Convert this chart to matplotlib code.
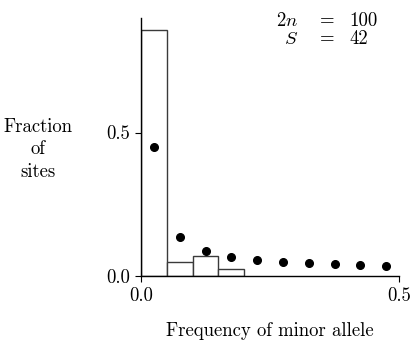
# Site frequency spectrum: observed histogram vs. neutral expectation
#------------------------------------------------------------------------------
import matplotlib
matplotlib.use('Agg')
import matplotlib.pyplot as plt
#------------------------------------------------------------------------------

plt.rcParams['font.family'] = 'cmr10'
plt.rcParams['mathtext.fontset'] = 'cm'
plt.rcParams['axes.formatter.use_mathtext'] = True
plt.rcParams['font.size'] = 13.5

# data
#------------------------------------------------------------------------------
bin_left = [0.00, 0.05, 0.10, 0.15]
bin_width = 0.05
observed = [0.857, 0.048, 0.071, 0.024]

bin_centers = [0.025, 0.075, 0.125, 0.175, 0.225,
               0.275, 0.325, 0.375, 0.425, 0.475]
expected = [0.451, 0.135, 0.086, 0.066, 0.055,
            0.048, 0.044, 0.041, 0.039, 0.035]

x_ticks = [0.0, 0.5]
y_ticks = [0.0, 0.5]
#------------------------------------------------------------------------------

fig = plt.figure(figsize=(4.11, 3.40), dpi=100)
ax = fig.add_axes([0.343, 0.188, 0.628, 0.760])

ax.bar(bin_left, observed, width=bin_width, align='edge',
       facecolor='white', edgecolor='#3a3a3a', linewidth=1.0, zorder=2)
ax.plot(bin_centers, expected, 'o', color='black', markersize=5.5, zorder=3)

ax.set_xlim(0, 0.5)
ax.set_ylim(0, 0.9)
ax.set_xticks(x_ticks)
ax.set_yticks(y_ticks)
ax.set_xticklabels(['0.0', '0.5'])
ax.set_yticklabels(['0.0', '0.5'])
ax.tick_params(direction='out', length=4, width=0.8, pad=4)

for side in ['top', 'right']:
    ax.spines[side].set_visible(False)
for side in ['left', 'bottom']:
    ax.spines[side].set_linewidth(1.0)
    ax.spines[side].set_zorder(4)

ax.set_xlabel('Frequency of minor allele', labelpad=12)
ax.set_ylabel('Fraction\nof\nsites', rotation=0, ha='center', va='center',
              linespacing=1.35)
ax.yaxis.set_label_coords(-0.40, 0.49)

# little eqnarray in the top right corner
ax.text(0.304, 0.888, r'$2n$', ha='right', va='center')
ax.text(0.360, 0.888, '=', ha='center', va='center')
ax.text(0.403, 0.888, '100', ha='left', va='center')
ax.text(0.304, 0.825, r'$S$', ha='right', va='center')
ax.text(0.360, 0.825, '=', ha='center', va='center')
ax.text(0.403, 0.825, '42', ha='left', va='center')

fig.savefig('out.png', dpi=100)
